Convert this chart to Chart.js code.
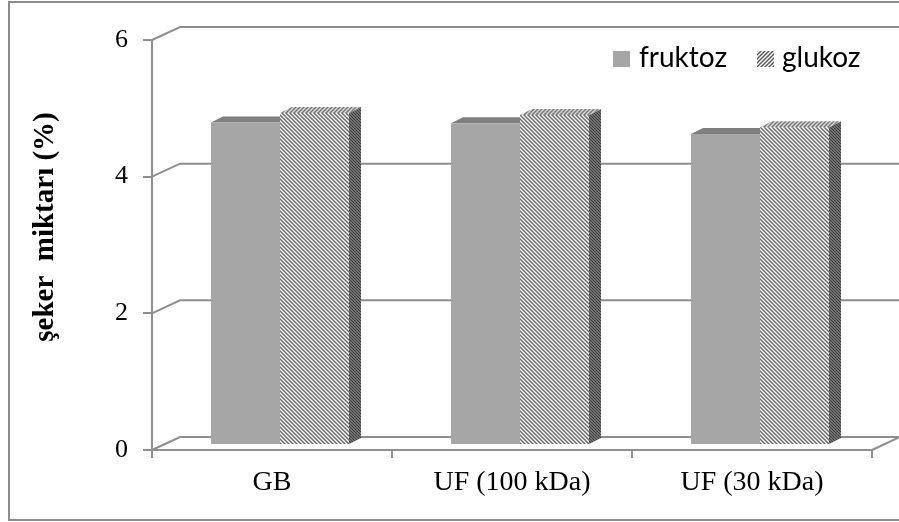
<!DOCTYPE html>
<html>
<head>
<meta charset="utf-8">
<script src="https://cdn.jsdelivr.net/npm/chart.js@4"></script>
<style>
  html, body { margin: 0; padding: 0; background: #ffffff; }
  canvas { display: block; }
</style>
</head>
<body>
<canvas id="c" width="899" height="522"></canvas>
<script>
// Sugar content per sample, two sugars
const categories = ['GB', 'UF (100 kDa)', 'UF (30 kDa)'];
const seriesNames = ['fruktoz', 'glukoz'];
const fruktoz = [4.72, 4.71, 4.55];
const glukoz = [4.86, 4.83, 4.65];
const yTicks = [0, 2, 4, 6];
const yTitle = 'şeker  miktarı (%)';

// Diagonal hatch fill built on a small tile
function hatch(color, bg, dir, size, lw) {
  const c = document.createElement('canvas');
  c.width = size; c.height = size;
  const g = c.getContext('2d');
  g.fillStyle = bg;
  g.fillRect(0, 0, size, size);
  g.strokeStyle = color;
  g.lineWidth = lw;
  g.beginPath();
  for (let k = -1; k <= 1; k++) {
    if (dir === '\\') {
      g.moveTo(k * size - 1, -1); g.lineTo(k * size + size + 1, size + 1);
    } else {
      g.moveTo(k * size - 1, size + 1); g.lineTo(k * size + size + 1, -1);
    }
  }
  g.stroke();
  return g.createPattern(c, 'repeat');
}

const GRID = '#8f8f8f';
const WALL = { dx: 28, dy: 13 };     // depth of the back wall
const SHIFT = { dx: 8, dy: -5 };     // bars sit part-way into the floor
const BAR_DEPTH = { dx: 12, dy: 6 }; // extrusion of each column

const fills = {
  fruktoz: { front: '#a6a6a6', top: '#7f7f7f', side: '#6f6f6f' },
  glukoz: {
    front: hatch('#6a6a6a', '#ffffff', '\\', 4, 1.5),
    top: hatch('#777777', '#dcdcdc', '/', 4, 1.5),
    side: hatch('#3f3f3f', '#9a9a9a', '\\', 3, 1.3)
  }
};
const legendIcon = {
  fruktoz: '#a6a6a6',
  glukoz: hatch('#555555', '#ffffff', '/', 4, 1.4)
};

const room = {
  id: 'room',
  beforeDraw(chart) {
    const { ctx, chartArea: a, scales: { y } } = chart;
    const W = chart.width;
    ctx.save();
    // outer frame
    ctx.strokeStyle = '#8c8c8c';
    ctx.lineWidth = 2;
    ctx.strokeRect(9, 2, W + 20, 518);
    // side wall diagonals and back wall gridlines
    ctx.strokeStyle = GRID;
    ctx.lineWidth = 2;
    yTicks.forEach(v => {
      const py = y.getPixelForValue(v);
      ctx.beginPath();
      ctx.moveTo(a.left, py);
      ctx.lineTo(a.left + WALL.dx, py - WALL.dy);
      ctx.lineTo(W + 2, py - WALL.dy);
      ctx.stroke();
    });
    // right edge of the floor
    const p0 = y.getPixelForValue(0);
    ctx.beginPath();
    ctx.moveTo(a.right, p0);
    ctx.lineTo(a.right + WALL.dx, p0 - WALL.dy);
    ctx.stroke();
    ctx.restore();
  },
  beforeDatasetsDraw(chart) {
    const ctx = chart.ctx;
    ctx.save();
    ctx.translate(SHIFT.dx, SHIFT.dy);
    // top and side faces first, fronts are drawn over them by the bar controller
    chart.data.datasets.forEach((ds, i) => {
      const f = fills[ds.label];
      chart.getDatasetMeta(i).data.forEach(bar => {
        const p = bar.getProps(['x', 'y', 'base', 'width'], true);
        const l = p.x - p.width / 2, r = p.x + p.width / 2;
        ctx.fillStyle = f.side;
        ctx.beginPath();
        ctx.moveTo(r, p.y);
        ctx.lineTo(r + BAR_DEPTH.dx, p.y - BAR_DEPTH.dy);
        ctx.lineTo(r + BAR_DEPTH.dx, p.base - BAR_DEPTH.dy);
        ctx.lineTo(r, p.base);
        ctx.closePath();
        ctx.fill();
        ctx.fillStyle = f.top;
        ctx.beginPath();
        ctx.moveTo(l, p.y);
        ctx.lineTo(l + BAR_DEPTH.dx, p.y - BAR_DEPTH.dy);
        ctx.lineTo(r + BAR_DEPTH.dx, p.y - BAR_DEPTH.dy);
        ctx.lineTo(r, p.y);
        ctx.closePath();
        ctx.fill();
      });
    });
  },
  afterDatasetsDraw(chart) {
    chart.ctx.restore();
  },
  afterDraw(chart) {
    const ctx = chart.ctx;
    ctx.save();
    // legend
    ctx.font = '28px Lato';
    ctx.textBaseline = 'alphabetic';
    ctx.textAlign = 'left';
    ctx.fillStyle = '#000';
    const items = [{ box: 613, text: 639 }, { box: 757, text: 782 }];
    chart.data.datasets.forEach((ds, i) => {
      ctx.fillStyle = legendIcon[ds.label];
      ctx.fillRect(items[i].box, 51, 17, 16);
      ctx.fillStyle = '#000';
      ctx.fillText(ds.label, items[i].text, 67);
    });
    // y axis title
    ctx.translate(46, 227);
    ctx.rotate(-Math.PI / 2);
    ctx.textAlign = 'center';
    ctx.textBaseline = 'middle';
    ctx.font = 'bold 29px "Liberation Serif"';
    ctx.fillText(yTitle, 0, 0);
    ctx.restore();
  }
};

new Chart(document.getElementById('c'), {
  type: 'bar',
  data: {
    labels: categories,
    datasets: [
      { label: seriesNames[0], data: fruktoz, backgroundColor: fills.fruktoz.front },
      { label: seriesNames[1], data: glukoz, backgroundColor: fills.glukoz.front }
    ]
  },
  options: {
    responsive: false,
    animation: false,
    layout: { padding: { top: 40, right: 27, left: 0, bottom: 0 } },
    plugins: { legend: { display: false }, tooltip: { enabled: false } },
    datasets: { bar: { barPercentage: 1, categoryPercentage: 0.575 } },
    scales: {
      x: {
        afterFit(s) { s.height = 72; },
        grid: { drawOnChartArea: false, drawTicks: true, tickLength: 8, color: GRID, lineWidth: 2 },
        border: { display: true, color: GRID, width: 2 },
        ticks: { color: '#000', padding: 8, font: { family: 'Liberation Serif', size: 28 } }
      },
      y: {
        min: 0, max: 6,
        afterFit(s) { s.width = 152; },
        afterBuildTicks(s) { s.ticks = yTicks.map(v => ({ value: v })); },
        grid: { drawOnChartArea: false, drawTicks: true, tickLength: 9, color: GRID, lineWidth: 2 },
        border: { display: true, color: GRID, width: 2 },
        ticks: { color: '#000', padding: 15, font: { family: 'Liberation Serif', size: 26 } }
      }
    }
  },
  plugins: [room]
});
</script>
</body>
</html>
